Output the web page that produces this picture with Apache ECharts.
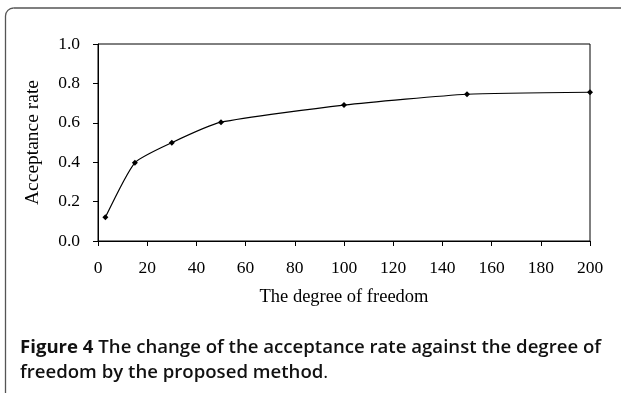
<!DOCTYPE html>
<html>
<head>
<meta charset="utf-8">
<script src="https://cdn.jsdelivr.net/npm/echarts@6/dist/echarts.min.js"></script>
<style>
  html, body { margin: 0; padding: 0; background: #fff; }
  #chart { width: 623px; height: 393px; }
</style>
</head>
<body>
<div id="chart"></div>
<script>
// Degrees of freedom and the acceptance rate measured at each
const degrees = [3, 15, 30, 50, 100, 150, 200];
const acceptance = [0.12, 0.397, 0.499, 0.603, 0.69, 0.745, 0.755];
const xTicks = { min: 0, max: 200, step: 20 };
const yTicks = { min: 0, max: 1, step: 0.2 };
const xTitle = 'The degree of freedom';
const yTitle = 'Acceptance rate';
const captionHead = 'Figure 4';
const captionLine1 = ' The change of the acceptance rate against the degree of';
const captionLine2 = 'freedom by the proposed method';

const serif = '"Liberation Serif", "Times New Roman", serif';
const sans = '"Open Sans", "Noto Sans", sans-serif';

const chart = echarts.init(document.getElementById('chart'), null, { renderer: 'canvas' });

const frameStyle = { stroke: '#555', lineWidth: 1.3, fill: null };
const capSize = 18.6;

chart.setOption({
  animation: false,
  backgroundColor: '#fff',
  grid: {
    left: 98, right: 33, top: 44, bottom: 152,
    show: true, borderColor: '#000', borderWidth: 1
  },
  xAxis: {
    type: 'value',
    min: xTicks.min, max: xTicks.max, interval: xTicks.step,
    splitLine: { show: false },
    axisLine: { lineStyle: { color: '#000', width: 1 } },
    axisTick: { inside: false, length: 5, lineStyle: { color: '#000' } },
    axisLabel: { color: '#000', fontFamily: serif, fontSize: 17.5, margin: 18 },
    name: xTitle, nameLocation: 'middle', nameGap: 47,
    nameTextStyle: { color: '#000', fontFamily: serif, fontSize: 18.5 }
  },
  yAxis: {
    type: 'value',
    min: yTicks.min, max: yTicks.max, interval: yTicks.step,
    splitLine: { show: false },
    axisLine: { show: true, lineStyle: { color: '#000', width: 1 } },
    axisTick: { show: true, inside: false, length: 5, lineStyle: { color: '#000' } },
    axisLabel: {
      color: '#000', fontFamily: serif, fontSize: 17.5, margin: 18,
      formatter: v => v.toFixed(1)
    },
    name: yTitle, nameLocation: 'middle', nameGap: 55, nameRotate: 90,
    nameTextStyle: { color: '#000', fontFamily: serif, fontSize: 19.5 }
  },
  series: [{
    type: 'line',
    data: degrees.map((d, i) => [d, acceptance[i]]),
    smooth: 0.18,
    symbol: 'diamond',
    symbolSize: 6,
    itemStyle: { color: '#000' },
    lineStyle: { color: '#000', width: 1.2 }
  }],
  graphic: [
    // rounded frame: left edge, top-left corner, top edge
    {
      type: 'line', silent: true,
      shape: { x1: 5.5, y1: 393, x2: 5.5, y2: 16 },
      style: frameStyle
    },
    {
      type: 'arc', silent: true,
      shape: { cx: 13.5, cy: 16, r: 8, startAngle: Math.PI, endAngle: Math.PI * 1.5, clockwise: true },
      style: frameStyle
    },
    {
      type: 'line', silent: true,
      shape: { x1: 13.5, y1: 8, x2: 621, y2: 8 },
      style: frameStyle
    },
    {
      type: 'text',
      left: 20, top: 338,
      style: {
        text: '{h|' + captionHead + '}{b|' + captionLine1 + '}\n{b|' + captionLine2 + '}{n|.}',
        rich: {
          h: { fontFamily: sans, fontWeight: 700, fontSize: capSize, fill: '#111', lineHeight: 25 },
          b: { fontFamily: sans, fontWeight: 600, fontSize: capSize, fill: '#111', lineHeight: 25 },
          n: { fontFamily: sans, fontWeight: 400, fontSize: capSize, fill: '#111', lineHeight: 25 }
        }
      }
    }
  ]
});
</script>
</body>
</html>
